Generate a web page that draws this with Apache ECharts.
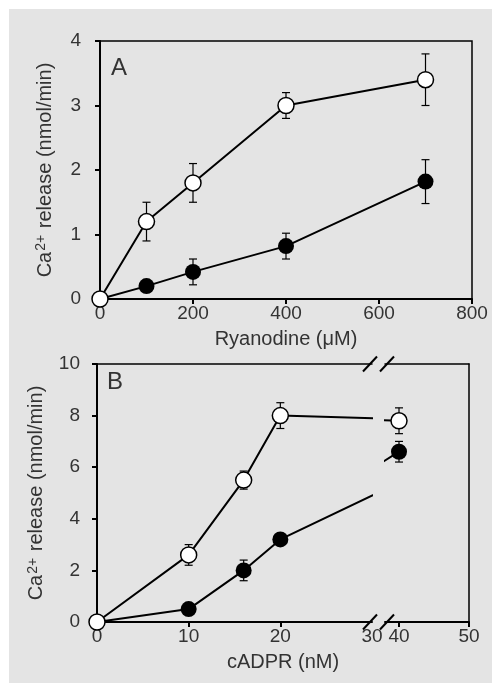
<!DOCTYPE html>
<html>
<head>
<meta charset="utf-8">
<script src="https://cdn.jsdelivr.net/npm/echarts@6/dist/echarts.min.js"></script>
<style>
html, body { margin: 0; padding: 0; background: #fff; }
#wrap { position: relative; width: 492px; height: 683px; }
#bg { position: absolute; left: 9px; top: 9px; width: 483px; height: 674px; background: #e4e4e4; }
#main { position: absolute; left: 0; top: 0; width: 492px; height: 683px; }
</style>
</head>
<body>
<div id="wrap"><div id="bg"></div><div id="main"></div></div>
<script>
// panel A: ryanodine (uM)
var ryaDose = [0, 100, 200, 400, 700];
var ryaOpen = [0, 1.2, 1.8, 3.0, 3.4];
var ryaOpenErr = [0, 0.3, 0.3, 0.2, 0.4];
var ryaFilled = [0, 0.2, 0.42, 0.82, 1.82];
var ryaFilledErr = [0, 0, 0.2, 0.2, 0.34];
var ryaTicks = [0, 200, 400, 600, 800];

// panel B: cADPR (nM), x axis broken between 30 and 40
var cadprDose = [0, 10, 16, 20, 40];
var cadprOpen = [0, 2.6, 5.5, 8.0, 7.8];
var cadprOpenErr = [0, 0.4, 0.35, 0.5, 0.5];
var cadprFilled = [0, 0.5, 2.0, 3.2, 6.6];
var cadprFilledErr = [0, 0, 0.4, 0.15, 0.4];
var cadprLeftLabels = [0, 10, 20, 30];
var cadprRightLabels = [40, 50];

// layout
var aTop = 41, aBottom = 299, aLeft = 100, aRight = 472;
var bTop = 364, bBottom = 622, bLeft = 97, bBreakL = 372, bBreakR = 385, bRight = 469;

var myChart = echarts.init(document.getElementById('main'));

function pairs(xs, ys) {
    return xs.map(function (x, i) { return [x, ys[i]]; });
}

function errs(xs, ys, es, lo, hi) {
    var out = [];
    xs.forEach(function (x, i) {
        if (x >= lo && x <= hi && es[i] > 0) out.push([x, ys[i], es[i]]);
    });
    return out;
}

function renderErr(params, api) {
    var x = api.value(0), y = api.value(1), e = api.value(2);
    var top = api.coord([x, y + e]);
    var bot = api.coord([x, y - e]);
    var w = 4;
    var st = { stroke: '#000', lineWidth: 1.2 };
    return {
        type: 'group',
        children: [
            { type: 'line', shape: { x1: top[0], y1: top[1], x2: bot[0], y2: bot[1] }, style: st },
            { type: 'line', shape: { x1: top[0] - w, y1: top[1], x2: top[0] + w, y2: top[1] }, style: st },
            { type: 'line', shape: { x1: bot[0] - w, y1: bot[1], x2: bot[0] + w, y2: bot[1] }, style: st }
        ]
    };
}

function lineSeries(data, open, xi, yi) {
    return {
        type: 'line',
        xAxisIndex: xi,
        yAxisIndex: yi,
        data: data,
        symbol: 'circle',
        symbolSize: 16,
        showAllSymbol: true,
        clip: true,
        z: open ? 4 : 3,
        lineStyle: { color: '#000', width: 2 },
        itemStyle: { color: open ? '#fff' : '#000', borderColor: '#000', borderWidth: open ? 1.5 : 0 }
    };
}

function errSeries(data, xi, yi) {
    return {
        type: 'custom',
        xAxisIndex: xi,
        yAxisIndex: yi,
        data: data,
        encode: { x: 0, y: 1 },
        renderItem: renderErr,
        clip: false,
        z: 2
    };
}

var labStyle = { color: '#333', fontSize: 19, fontFamily: 'Liberation Sans' };
var nameStyle = { color: '#333', fontSize: 20, fontFamily: 'Liberation Sans' };
var yName = '{n|Ca}{s|2+}{n| release (nmol/min)}';
var yNameStyle = {
    color: '#333',
    fontFamily: 'Liberation Sans',
    rich: {
        n: { fontSize: 20, color: '#333', fontFamily: 'Liberation Sans', lineHeight: 22 },
        s: { fontSize: 14, color: '#333', fontFamily: 'Liberation Sans', verticalAlign: 'top', lineHeight: 22, padding: [0, 1, 8, 1] }
    }
};
var thick = { color: '#000', width: 2 };
var thin = { color: '#000', width: 1.5 };

function mainX(grid, min, max, labels, ticks) {
    return {
        type: 'value', gridIndex: grid, min: min, max: max, position: 'bottom',
        axisLine: { show: true, onZero: false, lineStyle: thick },
        axisTick: { show: true, length: 5, lineStyle: thick, customValues: ticks },
        axisLabel: Object.assign({ margin: 5, customValues: labels }, labStyle),
        splitLine: { show: false }
    };
}

function topX(grid, min, max) {
    return {
        type: 'value', gridIndex: grid, min: min, max: max, position: 'top',
        axisLine: { show: true, onZero: false, lineStyle: thin },
        axisTick: { show: false }, axisLabel: { show: false }, splitLine: { show: false }
    };
}

var xA = mainX(0, 0, 800, ryaTicks, ryaTicks);
xA.name = 'Ryanodine (μM)';
xA.nameLocation = 'middle';
xA.nameGap = 30;
xA.nameTextStyle = nameStyle;

var option = {
    animation: false,
    grid: [
        { left: aLeft, top: aTop, width: aRight - aLeft, height: aBottom - aTop, show: true, borderColor: '#000', borderWidth: 1.5 },
        { left: bLeft, top: bTop, width: bBreakL - bLeft, height: bBottom - bTop },
        { left: bBreakR, top: bTop, width: bRight - bBreakR, height: bBottom - bTop },
        { left: bLeft, top: bTop, width: bRight - bLeft, height: bBottom - bTop }
    ],
    xAxis: [
        xA,
        mainX(1, 0, 30, cadprLeftLabels, [0, 10, 20]),
        mainX(2, 38, 50, cadprRightLabels, cadprRightLabels),
        topX(1, 0, 30),
        topX(2, 38, 50),
        {
            type: 'value', gridIndex: 3, min: 0, max: 1,
            axisLine: { show: false }, axisTick: { show: false }, axisLabel: { show: false }, splitLine: { show: false },
            name: 'cADPR (nM)', nameLocation: 'middle', nameGap: 30, nameTextStyle: nameStyle
        }
    ],
    yAxis: [
        {
            type: 'value', gridIndex: 0, min: 0, max: 4, interval: 1,
            axisLine: { show: true, onZero: false, lineStyle: thick },
            axisTick: { show: true, length: 5, lineStyle: thick },
            axisLabel: Object.assign({ margin: 19 }, labStyle),
            splitLine: { show: false },
            name: yName, nameLocation: 'middle', nameGap: 44, nameTextStyle: yNameStyle
        },
        {
            type: 'value', gridIndex: 1, min: 0, max: 10, interval: 2,
            axisLine: { show: true, onZero: false, lineStyle: thick },
            axisTick: { show: true, length: 5, lineStyle: thick },
            axisLabel: Object.assign({ margin: 17 }, labStyle),
            splitLine: { show: false },
            name: yName, nameLocation: 'middle', nameGap: 41, nameTextStyle: yNameStyle
        },
        {
            type: 'value', gridIndex: 2, min: 0, max: 10, interval: 2, position: 'right',
            axisLine: { show: true, onZero: false, lineStyle: thin },
            axisTick: { show: false }, axisLabel: { show: false }, splitLine: { show: false }
        },
        { type: 'value', gridIndex: 3, min: 0, max: 1, show: false }
    ],
    graphic: [
        { type: 'text', left: 111, top: 56, style: { text: 'A', fontSize: 24, fill: '#333', fontFamily: 'Liberation Sans' } },
        { type: 'text', left: 107, top: 370, style: { text: 'B', fontSize: 24, fill: '#333', fontFamily: 'Liberation Sans' } }
    ],
    series: [
        errSeries(errs(ryaDose, ryaFilled, ryaFilledErr, 0, 800), 0, 0),
        errSeries(errs(ryaDose, ryaOpen, ryaOpenErr, 0, 800), 0, 0),
        lineSeries(pairs(ryaDose, ryaFilled), false, 0, 0),
        lineSeries(pairs(ryaDose, ryaOpen), true, 0, 0),

        errSeries(errs(cadprDose, cadprFilled, cadprFilledErr, 0, 30), 1, 1),
        errSeries(errs(cadprDose, cadprOpen, cadprOpenErr, 0, 30), 1, 1),
        lineSeries(pairs(cadprDose, cadprFilled), false, 1, 1),
        lineSeries(pairs(cadprDose, cadprOpen), true, 1, 1),

        errSeries(errs(cadprDose, cadprFilled, cadprFilledErr, 38, 50), 2, 2),
        errSeries(errs(cadprDose, cadprOpen, cadprOpenErr, 38, 50), 2, 2),
        lineSeries(pairs(cadprDose, cadprFilled), false, 2, 2),
        lineSeries(pairs(cadprDose, cadprOpen), true, 2, 2)
    ]
};

// break marks on the top and bottom edges of panel B
[bTop, bBottom].forEach(function (yy) {
    [bBreakL - 2, bBreakR + 2].forEach(function (cx) {
        option.graphic.push({
            type: 'line',
            shape: { x1: cx - 7, y1: yy + 7.5, x2: cx + 7, y2: yy - 7.5 },
            style: { stroke: '#000', lineWidth: 2 },
            z: 10
        });
    });
});

myChart.setOption(option);
</script>
</body>
</html>
